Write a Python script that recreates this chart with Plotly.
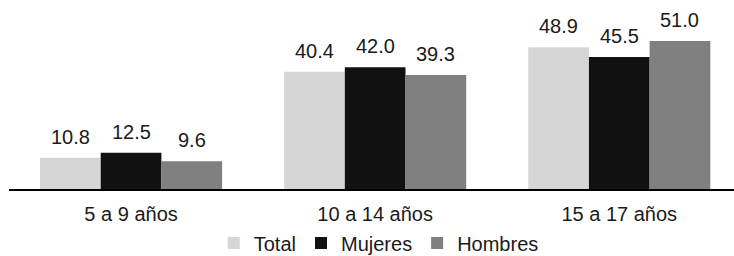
import plotly.graph_objects as go

categories = ["5 a 9 años", "10 a 14 años", "15 a 17 años"]
total = [10.8, 40.4, 48.9]
mujeres = [12.5, 42.0, 45.5]
hombres = [9.6, 39.3, 51.0]

series = [("Total", total, "#d6d6d6"), ("Mujeres", mujeres, "#111111"), ("Hombres", hombres, "#808080")]

bargap = 0.254
bw = (1 - bargap) / len(series)

fig = go.Figure()
annotations = []
for i, (name, vals, color) in enumerate(series):
    fig.add_trace(go.Bar(
        x=categories, y=vals, name=name, marker=dict(color=color, line=dict(width=0)),
    ))
    for j, v in enumerate(vals):
        annotations.append(dict(
            x=j + (i - 1) * bw, y=v, xref="x", yref="y", text=f"{v:.1f}",
            showarrow=False, yanchor="bottom", yshift=8,
            font=dict(size=20, color="#1a1a1a"),
        ))

fig.update_layout(
    width=734, height=256,
    margin=dict(l=9, r=0, t=15, b=67, autoexpand=False),
    barmode="group", bargap=bargap, bargroupgap=0,
    plot_bgcolor="white", paper_bgcolor="white",
    font=dict(family="Liberation Sans, Arial, sans-serif", size=20, color="#1a1a1a"),
    xaxis=dict(range=[-0.5, 2.47], showline=True, linecolor="black", linewidth=2,
               ticks="outside", ticklen=6, tickcolor="rgba(0,0,0,0)",
               tickfont=dict(size=20), showgrid=False, automargin=False),
    yaxis=dict(range=[0, 60], visible=False, showgrid=False, automargin=False),
    legend=dict(orientation="h", x=0.51, xanchor="center", yref="container", y=13 / 256, yanchor="middle",
                font=dict(size=20), itemwidth=30, traceorder="normal"),
    annotations=annotations,
    showlegend=True,
)

fig.write_html("out.html", config={"displayModeBar": False},
               post_script="document.body.style.margin='0';document.body.style.overflow='hidden';")
